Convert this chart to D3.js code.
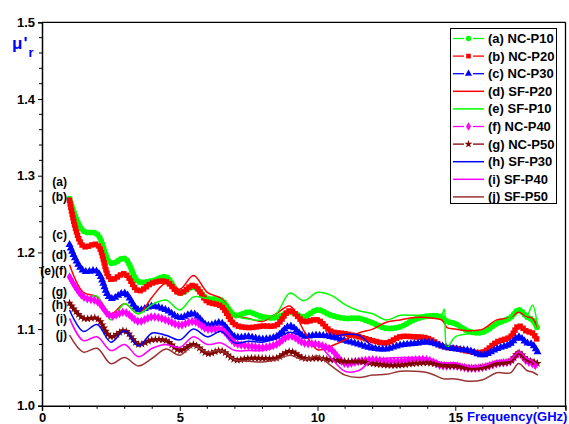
<!DOCTYPE html>
<html><head><meta charset="utf-8">
<script src="https://cdn.jsdelivr.net/npm/d3@7"></script>
<style>body{margin:0;background:#fff;} svg{display:block;font-family:"Liberation Sans",Arial,sans-serif;}</style>
</head><body><svg id="c" width="569" height="424"></svg>
<script>
// Frequency (GHz)
const freq = [1,1.5,2,2.5,3,3.5,4,4.5,5,5.5,6,6.5,7,7.5,8,8.5,9,9.5,10,10.5,11,11.5,12,12.5,13,13.5,14,14.5,14.6,14.7,15,15.5,16,16.5,17,17.3,17.6,17.8,18];

const ncP10 = [1.270,1.228,1.224,1.186,1.192,1.162,1.163,1.168,1.147,1.155,1.140,1.138,1.118,1.122,1.116,1.115,1.122,1.116,1.125,1.118,1.114,1.114,1.108,1.101,1.103,1.112,1.117,1.116,1.113,1.110,1.107,1.097,1.096,1.107,1.115,1.125,1.116,1.112,1.100];
const ncP20 = [1.268,1.208,1.210,1.165,1.172,1.150,1.160,1.162,1.147,1.157,1.136,1.130,1.106,1.102,1.104,1.105,1.124,1.110,1.112,1.097,1.094,1.090,1.085,1.082,1.090,1.090,1.088,1.078,1.077,1.076,1.075,1.071,1.070,1.083,1.090,1.104,1.097,1.095,1.084];
const ncP30 = [1.210,1.176,1.175,1.140,1.147,1.125,1.130,1.125,1.115,1.120,1.105,1.108,1.090,1.090,1.087,1.090,1.104,1.091,1.092,1.090,1.085,1.080,1.075,1.074,1.079,1.081,1.083,1.078,1.077,1.076,1.074,1.072,1.066,1.074,1.081,1.090,1.082,1.080,1.069];
const sfP20 = [1.184,1.148,1.142,1.120,1.133,1.120,1.142,1.160,1.152,1.170,1.148,1.140,1.118,1.114,1.110,1.120,1.130,1.098,1.073,1.078,1.086,1.095,1.100,1.109,1.112,1.115,1.115,1.112,1.108,1.102,1.100,1.098,1.100,1.112,1.115,1.122,1.116,1.114,1.100];
const sfP10 = [1.165,1.140,1.143,1.112,1.133,1.120,1.132,1.138,1.125,1.142,1.140,1.138,1.118,1.113,1.112,1.120,1.147,1.137,1.148,1.144,1.132,1.124,1.120,1.112,1.118,1.118,1.118,1.118,1.126,1.076,1.090,1.094,1.094,1.108,1.115,1.127,1.118,1.131,1.100];
const ncP40 = [1.168,1.142,1.136,1.117,1.122,1.110,1.116,1.112,1.105,1.110,1.100,1.100,1.082,1.078,1.076,1.080,1.091,1.082,1.080,1.073,1.055,1.058,1.060,1.058,1.058,1.060,1.060,1.052,1.052,1.052,1.052,1.049,1.050,1.055,1.058,1.068,1.058,1.055,1.050];
const ncP50 = [1.134,1.114,1.114,1.090,1.098,1.080,1.086,1.085,1.072,1.080,1.068,1.072,1.060,1.062,1.062,1.062,1.071,1.062,1.062,1.060,1.058,1.058,1.055,1.053,1.053,1.055,1.056,1.053,1.053,1.052,1.052,1.049,1.050,1.055,1.058,1.069,1.060,1.058,1.055];
const sfP30 = [1.125,1.097,1.106,1.083,1.098,1.078,1.095,1.092,1.086,1.100,1.090,1.097,1.082,1.084,1.083,1.088,1.096,1.090,1.090,1.090,1.093,1.092,1.078,1.074,1.080,1.083,1.083,1.078,1.077,1.076,1.075,1.072,1.068,1.075,1.078,1.088,1.080,1.078,1.074];
const sfP40 = [1.114,1.085,1.090,1.072,1.080,1.064,1.075,1.080,1.076,1.090,1.080,1.082,1.072,1.072,1.072,1.078,1.092,1.082,1.080,1.062,1.045,1.046,1.060,1.062,1.063,1.063,1.062,1.056,1.056,1.056,1.056,1.051,1.052,1.058,1.060,1.070,1.062,1.058,1.052];
const sfP50 = [1.092,1.070,1.075,1.055,1.063,1.052,1.062,1.074,1.066,1.078,1.070,1.072,1.060,1.058,1.057,1.060,1.066,1.060,1.065,1.052,1.040,1.037,1.040,1.041,1.045,1.045,1.043,1.036,1.035,1.035,1.035,1.032,1.034,1.043,1.043,1.055,1.046,1.044,1.040];

const seriesNames = ["(a) NC-P10","(b) NC-P20","(c) NC-P30","(d) SF-P20","(e) SF-P10","(f) NC-P40","(g) NC-P50","(h) SF-P30","(i) SF-P40","(j) SF-P50"];
const seriesValues = [ncP10,ncP20,ncP30,sfP20,sfP10,ncP40,ncP50,sfP30,sfP40,sfP50];
const seriesColors = ["#00ff00","#ff0000","#0000ff","#ff0000","#00ff00","#ff00ff","#800000","#0000ff","#ff00ff","#993333"];
const seriesMarkers = ["circle","square","triangle",null,null,"diamond","star",null,null,null];

const xTicks = [0,5,10,15];
const yTicks = [1.0,1.1,1.2,1.3,1.4,1.5];
const curveLabels = ["(a)","(b)","(c)","(d)","(e)(f)","(g)","(h)","(i)","(j)"];
const curveLabelValues = [1.292,1.272,1.223,1.197,1.176,1.149,1.131,1.113,1.092];

const svg = d3.select("#c");
const x = d3.scaleLinear().domain([0,19]).range([42,565.5]);
const y = d3.scaleLinear().domain([1.0,1.5]).range([405.8,22.3]);

const symType = {circle:d3.symbolCircle, square:d3.symbolSquare, triangle:d3.symbolTriangle, diamond:d3.symbolDiamond, star:d3.symbolStar};
const symSize = {circle:28, square:30, triangle:28, diamond:26, star:22};
const legSize = {circle:22, square:22, triangle:22, diamond:22, star:20};

// series
const line = d3.line().x((d,i)=>x(freq[i])).y(d=>y(d)).curve(d3.curveCatmullRom.alpha(0.5));
const gPlot = svg.append("g");
seriesValues.forEach((vals,k)=>{
  const p = gPlot.append("path").attr("d", line(vals)).attr("fill","none")
    .attr("stroke", seriesColors[k]).attr("stroke-width", seriesMarkers[k]?1:1.5);
  if (seriesMarkers[k]) {
    const node = p.node(); const L = node.getTotalLength();
    const sym = d3.symbol().type(symType[seriesMarkers[k]]).size(symSize[seriesMarkers[k]]);
    const pts = [];
    for (let s=0; s<=L; s+=3.6) pts.push(node.getPointAtLength(s));
    gPlot.append("g").selectAll("path").data(pts).join("path")
      .attr("d", sym).attr("transform", d=>`translate(${d.x},${d.y})`)
      .attr("fill", seriesColors[k]);
  }
});

// frame
const fr = svg.append("g").attr("stroke","#000").attr("fill","none");
fr.append("line").attr("x1",x(0)).attr("x2",x(19)).attr("y1",y(1.5)).attr("y2",y(1.5)).attr("stroke-width",1.3);
fr.append("line").attr("x1",x(19)).attr("x2",x(19)).attr("y1",y(1.5)).attr("y2",y(1.0)).attr("stroke-width",1.3);

// axes
const xAxis = d3.axisBottom(x).tickValues(xTicks).tickFormat(d3.format("d")).tickSize(5).tickPadding(3);
const gx = svg.append("g").attr("transform",`translate(0,${y(1.0)})`).call(xAxis);
const xMinor = d3.range(0,20).filter(v=>v%5!==0);
gx.selectAll(".minor").data(xMinor).join("line").attr("class","minor")
  .attr("x1",d=>x(d)).attr("x2",d=>x(d)).attr("y1",0).attr("y2",3).attr("stroke","#000");
const yAxis = d3.axisLeft(y).tickValues(yTicks).tickFormat(d3.format(".1f")).tickSize(4).tickPadding(3);
const gy = svg.append("g").attr("transform",`translate(${x(0)},0)`).call(yAxis);
const yMinor = d3.range(1.0,1.5,0.02).filter(v=>Math.abs(v*10-Math.round(v*10))>1e-6);
gy.selectAll(".minor").data(yMinor).join("line").attr("class","minor")
  .attr("x1",-3).attr("x2",0).attr("y1",d=>y(d)).attr("y2",d=>y(d)).attr("stroke","#000");
[gx,gy].forEach(g=>{
  g.select(".domain").attr("stroke-width",1.5);
  g.selectAll("text").attr("font-family","Liberation Sans, Arial, sans-serif").attr("font-weight","bold").attr("font-size",13).attr("fill","#000");
});
gx.selectAll(".tick text").attr("dy",null).attr("y",16);

// axis titles
svg.append("text").attr("x",467).attr("y",421).attr("fill","#0000ff").attr("font-weight","bold").attr("font-size",13).text("Frequency(GHz)");
const yt = svg.append("text").attr("x",12).attr("y",49).attr("fill","#0000ff").attr("font-weight","bold").attr("font-size",17);
yt.append("tspan").text("\u03bc");
yt.append("tspan").attr("dx",1).text("'");
yt.append("tspan").attr("dx",1).attr("dy",8).attr("font-size",13).text("r");

// curve labels
svg.append("g").selectAll("text").data(curveLabels).join("text")
  .attr("x",67).attr("y",(d,i)=>y(curveLabelValues[i])+4).attr("text-anchor","end")
  .attr("font-weight","bold").attr("font-size",12).attr("fill","#000").text(d=>d);

// legend
const lg = svg.append("g");
lg.append("rect").attr("x",450.5).attr("y",28.5).attr("width",106).attr("height",175).attr("fill","#fff").attr("stroke","#000").attr("stroke-width",1);
seriesNames.forEach((nm,k)=>{
  const yy = 38.5 + k*17.6;
  if (seriesMarkers[k]) {
    lg.append("line").attr("x1",453).attr("x2",464).attr("y1",yy).attr("y2",yy).attr("stroke",seriesColors[k]).attr("stroke-width",1.3);
    lg.append("line").attr("x1",473).attr("x2",484).attr("y1",yy).attr("y2",yy).attr("stroke",seriesColors[k]).attr("stroke-width",1.3);
    lg.append("path").attr("d",d3.symbol().type(symType[seriesMarkers[k]]).size(legSize[seriesMarkers[k]])()).attr("transform",`translate(468.5,${yy})`).attr("fill",seriesColors[k]);
  } else {
    lg.append("line").attr("x1",453).attr("x2",484).attr("y1",yy).attr("y2",yy).attr("stroke",seriesColors[k]).attr("stroke-width",1.5);
  }
  lg.append("text").attr("x",488).attr("y",yy+4.5).attr("font-weight","bold").attr("font-size",13).attr("fill","#000").text(nm);
});
</script></body></html>
